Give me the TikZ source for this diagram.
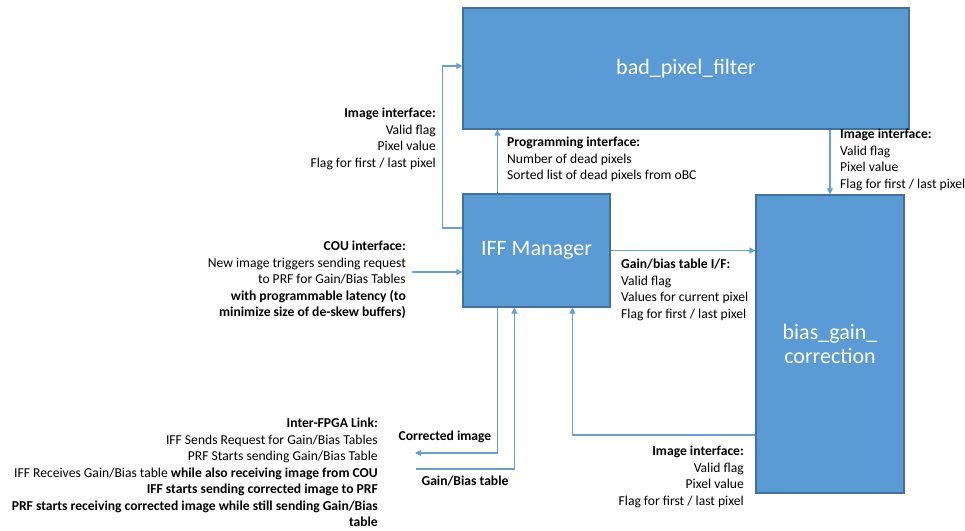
\documentclass[tikz,border=0pt]{standalone}
\usepackage{fontspec}
\setmainfont{Carlito}
\usepackage{tikz}
\usetikzlibrary{arrows.meta}
\definecolor{IffBoxFill}{RGB}{91,155,213}
\definecolor{IffBoxLine}{RGB}{65,113,156}
\definecolor{IffLink}{RGB}{100,160,218}

\begin{document}
\begin{tikzpicture}[x=1pt,y=-1pt,blk/.style n args={2}{rectangle,draw=IffBoxLine,line width=1.2pt,fill=IffBoxFill,text=white,minimum width=#1pt,minimum height=#2pt,inner sep=0pt,font=\fontsize{22}{23.5}\selectfont},link/.style={draw=IffLink,line width=1.1pt,-{Triangle[length=6pt,width=6pt]}},lbl/.style={inner sep=0pt,font=\fontsize{13.6}{16.45}\selectfont}]
\useasboundingbox (0,0) rectangle (965,530);
\node[blk={446}{121}](filter) at (686,68.5) {bad\_pixel\_filter};
\node[blk={147}{113}](manager) at (536.5,250.5) {IFF Manager};
\node[blk={148}{298},align=center](correction) at (830,344) {bias\_gain\_\\correction};
\coordinate (couin) at (412,272);
\coordinate (corrout) at (415,453);
\coordinate (gbin) at (416,469);
\draw[link] ([yshift=22.5pt]manager.west) -- ++(-20,0) |- ([yshift=2.5pt]filter.west);
\draw[link] ([xshift=35pt]manager.north west) coordinate (prg) -- (prg |- filter.south);
\draw[link] (filter.south -| correction.north) -- (correction.north);
\draw[link] (manager.east) -- (manager.east -| correction.west);
\draw[link] (couin) -- (couin -| manager.west);
\draw[link] ([yshift=-91pt]correction.west) -| ([xshift=110pt]manager.south west);
\draw[link] ([xshift=35pt]manager.south west) |- (corrout);
\draw[link] (gbin) -| ([xshift=52pt]manager.south west);
\node[lbl,anchor=north east,align=right](leftimg) at (436,108) {\textbf{Image interface:}\\Valid flag\\Pixel value\\Flag for first / last pixel};
\node[lbl,anchor=north west,align=left](prog) at (507,137) {\textbf{Programming interface:}\\Number of dead pixels\\Sorted list of dead pixels from oBC};
\node[lbl,anchor=north west,align=left](rightimg) at (840,129) {\textbf{Image interface:}\\Valid flag\\Pixel value\\Flag for first / last pixel};
\node[lbl,anchor=north east,align=right](cou) at (406,241) {\textbf{COU interface:}\\New image triggers sending request\\to PRF for Gain/Bias Tables\\\textbf{with programmable latency (to}\\\textbf{minimize size of de-skew buffers)}};
\node[lbl,anchor=north west,align=left](gainif) at (621,259) {\textbf{Gain/bias table I/F:}\\Valid flag\\Values for current pixel\\Flag for first / last pixel};
\node[lbl,anchor=north east,align=right](fpga) at (378,418) {\textbf{Inter-FPGA Link:}\\IFF Sends Request for Gain/Bias Tables\\PRF Starts sending Gain/Bias Table\\IFF Receives Gain/Bias table \textbf{while also receiving image from COU}\\\textbf{IFF starts sending corrected image to PRF}\\\textbf{PRF starts receiving corrected image while still sending Gain/Bias}\\\textbf{table}};
\node[lbl,font=\fontsize{13.6}{16.45}\selectfont\bfseries](corrlbl) at (445,437) {Corrected image};
\node[lbl,font=\fontsize{13.6}{16.45}\selectfont\bfseries](gblbl) at (465,481) {Gain/Bias table};
\node[lbl,anchor=north east,align=right](botimg) at (744,446) {\textbf{Image interface:}\\Valid flag\\Pixel value\\Flag for first / last pixel};
\end{tikzpicture}
\end{document}
